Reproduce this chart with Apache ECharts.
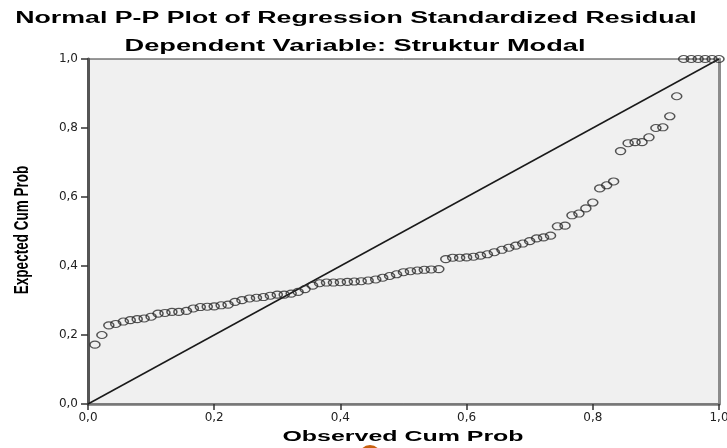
<!DOCTYPE html>
<html>
<head>
<meta charset="utf-8">
<script src="https://cdn.jsdelivr.net/npm/echarts@6/dist/echarts.min.js"></script>
<style>
html,body{margin:0;padding:0;background:#fff;}
#c{width:727px;height:448px;}
</style>
</head>
<body>
<div id="c"></div>
<script>
const titleText = 'Normal P-P Plot of Regression Standardized Residual';
const subtitleText = 'Dependent Variable: Struktur Modal';
const xAxisTitle = 'Observed Cum Prob';
const yAxisTitle = 'Expected Cum Prob';
const tickValues = [0, 0.2, 0.4, 0.6, 0.8, 1.0];
const tickLabels = ['0,0', '0,2', '0,4', '0,6', '0,8', '1,0'];

const observedCumProb = [
  0.011, 0.022, 0.033, 0.044, 0.056, 0.067, 0.078, 0.089, 0.100, 0.111,
  0.122, 0.133, 0.144, 0.156, 0.167, 0.178, 0.189, 0.200, 0.211, 0.222,
  0.233, 0.244, 0.256, 0.267, 0.278, 0.289, 0.300, 0.311, 0.322, 0.333,
  0.344, 0.356, 0.367, 0.378, 0.389, 0.400, 0.411, 0.422, 0.433, 0.444,
  0.456, 0.467, 0.478, 0.489, 0.500, 0.511, 0.522, 0.533, 0.544, 0.556,
  0.567, 0.578, 0.589, 0.600, 0.611, 0.622, 0.633, 0.644, 0.656, 0.667,
  0.678, 0.689, 0.700, 0.711, 0.722, 0.733, 0.744, 0.756, 0.767, 0.778,
  0.789, 0.800, 0.811, 0.822, 0.833, 0.844, 0.856, 0.867, 0.878, 0.889,
  0.900, 0.911, 0.922, 0.933, 0.944, 0.956, 0.967, 0.978, 0.989, 1.000
];
const expectedCumProb = [
  0.172, 0.200, 0.228, 0.232, 0.239, 0.243, 0.246, 0.248, 0.253, 0.262,
  0.264, 0.267, 0.267, 0.270, 0.277, 0.281, 0.282, 0.283, 0.286, 0.288,
  0.296, 0.301, 0.306, 0.308, 0.310, 0.314, 0.317, 0.317, 0.320, 0.325,
  0.333, 0.343, 0.350, 0.352, 0.352, 0.353, 0.354, 0.355, 0.356, 0.358,
  0.361, 0.366, 0.371, 0.376, 0.382, 0.385, 0.387, 0.389, 0.390, 0.391,
  0.420, 0.424, 0.424, 0.425, 0.427, 0.430, 0.434, 0.440, 0.447, 0.453,
  0.459, 0.465, 0.472, 0.480, 0.483, 0.488, 0.515, 0.517, 0.547, 0.552,
  0.567, 0.584, 0.625, 0.634, 0.645, 0.733, 0.756, 0.759, 0.759, 0.773,
  0.800, 0.802, 0.834, 0.892, 1.000, 1.000, 1.000, 1.000, 1.000, 1.000
];
const refLineX = [0, 1];
const refLineY = [0, 1];

const tickFormatter = function (v) {
  const i = tickValues.findIndex(function (t) { return Math.abs(t - v) < 1e-9; });
  return i >= 0 ? tickLabels[i] : '';
};

const chart = echarts.init(document.getElementById('c'), null, {renderer: 'canvas'});
const labelFont = {fontFamily: '"DejaVu Sans", sans-serif', fontSize: 12, color: '#222'};
const titleFont = '"Liberation Sans", Arial, sans-serif';

chart.setOption({
  animation: false,
  backgroundColor: '#ffffff',
  grid: {
    left: 88, right: 8, top: 59, bottom: 44,
    outerBoundsMode: 'none', containLabel: false,
    show: true, backgroundColor: '#f0f0f0', borderColor: '#333', borderWidth: 1
  },
  xAxis: {
    type: 'value', min: 0, max: 1, interval: 0.2,
    axisLine: {show: true, onZero: false, lineStyle: {color: '#777', width: 2.5}},
    axisTick: {show: true, length: 6, lineStyle: {color: '#333', width: 1.5}},
    axisLabel: Object.assign({margin: 8, formatter: tickFormatter, hideOverlap: false}, labelFont),
    splitLine: {show: false}
  },
  yAxis: [{
    type: 'value', min: 0, max: 1, interval: 0.2, position: 'left',
    axisLine: {show: true, onZero: false, lineStyle: {color: '#555', width: 3}},
    axisTick: {show: true, length: 7, lineStyle: {color: '#333', width: 1.5}},
    axisLabel: Object.assign({margin: 10, formatter: tickFormatter}, labelFont),
    splitLine: {show: false}
  }, {
    type: 'value', min: 0, max: 1, interval: 0.2, position: 'right',
    axisLine: {show: true, onZero: false, lineStyle: {color: '#8c8c8c', width: 3}},
    axisTick: {show: false}, axisLabel: {show: false}, splitLine: {show: false}
  }],
  series: [{
    type: 'line',
    data: refLineX.map(function (x, i) { return [x, refLineY[i]]; }),
    symbol: 'none',
    lineStyle: {color: '#1a1a1a', width: 1.5},
    silent: true, z: 2
  }, {
    type: 'scatter',
    data: observedCumProb.map(function (x, i) { return [x, expectedCumProb[i]]; }),
    symbol: 'circle',
    symbolSize: [10, 7],
    clip: false,
    itemStyle: {color: 'rgba(0,0,0,0)', borderColor: '#2a2a2a', borderWidth: 1.3},
    silent: true, z: 3
  }],
  graphic: [{
    type: 'text', x: 356, y: 19, scaleX: 1.67, silent: true,
    style: {text: titleText, fontFamily: titleFont, fontSize: 16, fontWeight: 'bold',
            fill: '#000', textAlign: 'center', textVerticalAlign: 'middle', align: 'center', verticalAlign: 'middle'}
  }, {
    type: 'text', x: 355, y: 47, scaleX: 1.7, silent: true,
    style: {text: subtitleText, fontFamily: titleFont, fontSize: 16, fontWeight: 'bold',
            fill: '#000', textAlign: 'center', textVerticalAlign: 'middle', align: 'center', verticalAlign: 'middle'}
  }, {
    type: 'text', x: 403, y: 437, scaleX: 1.72, silent: true,
    style: {text: xAxisTitle, fontFamily: titleFont, fontSize: 14.5, fontWeight: 'bold',
            fill: '#000', textAlign: 'center', textVerticalAlign: 'middle', align: 'center', verticalAlign: 'middle'}
  }, {
    type: 'text', x: 22, y: 230, rotation: Math.PI / 2, scaleY: 1.5, silent: true,
    style: {text: yAxisTitle, fontFamily: titleFont, fontSize: 13.5, fontWeight: 'bold',
            fill: '#000', textAlign: 'center', textVerticalAlign: 'middle', align: 'center', verticalAlign: 'middle'}
  }, {
    type: 'circle', shape: {cx: 370, cy: 456, r: 11}, silent: true, z: -1,
    style: {fill: '#c8600e'}
  }]
});
</script>
</body>
</html>
